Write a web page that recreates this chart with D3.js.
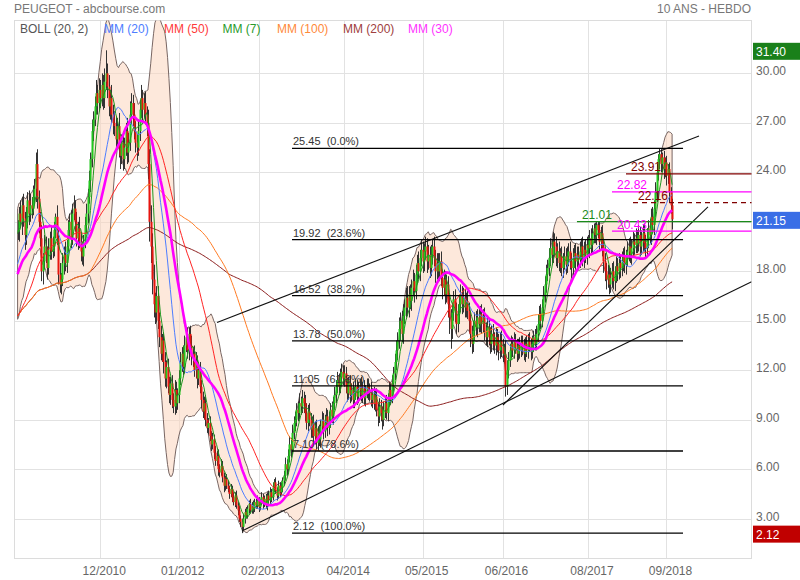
<!DOCTYPE html>
<html><head><meta charset="utf-8">
<script src="https://cdn.jsdelivr.net/npm/d3@7"></script>
<style>body{margin:0;background:#fff}svg{display:block;font-family:"Liberation Sans",Arial,sans-serif}</style>
</head><body><svg id="c" width="800" height="580"></svg>
<script>
// ---------- DATA ----------
const firstWeek = "2009-10-19";           // date of first visible weekly candle
const historyCloses = [
13.5,12.8,12.0,11.5,12.2,11.0,10.5,11.2,10.8,10.0,
9.5,9.8,10.4,11.0,10.6,11.5,12.0,11.6,12.4,13.5,
14.6,15.4,16.0,16.8,17.5,17.2,18.0,18.6,18.4,16.0,
15.2,16.0,17.5,16.5,17.0,17.8,18.2,17.6,18.5,19.0,
18.4,19.2,19.8,20.2,19.6,20.5,21.0,20.4];
const closes = [
20.5,21.5,21.0,22.0,21.2,20.2,21.0,22.3,21.5,22.0,
21.8,22.5,23.0,24.5,22.4,21.0,20.0,18.0,18.6,19.5,
19.0,18.2,19.3,20.0,19.2,19.5,20.5,21.3,20.0,17.8,
17.2,17.5,18.5,19.0,18.5,19.5,20.5,21.0,20.0,21.5,
21.8,21.0,20.0,20.6,19.8,19.2,18.9,19.8,20.8,21.5,
22.5,23.5,24.8,26.5,27.2,28.0,28.8,28.2,29.0,28.5,
29.3,28.5,29.5,30.0,29.2,28.0,28.5,27.5,27.0,26.8,
26.0,26.8,25.5,25.0,25.8,24.8,25.5,26.5,25.2,25.8,
27.5,28.2,27.5,26.5,25.8,25.5,26.5,27.8,28.5,27.8,
28.2,27.5,27.0,24.5,21.0,19.5,17.5,16.0,15.5,16.5,
15.0,14.0,13.0,13.8,12.5,11.5,12.2,11.0,10.5,11.2,
10.2,9.8,10.8,10.0,10.5,11.5,12.5,13.0,12.2,13.5,
14.0,13.2,14.2,13.5,12.8,13.0,12.0,12.5,11.5,12.0,
11.0,10.2,9.5,10.0,9.0,8.5,8.8,8.0,7.5,7.8,
7.0,6.5,6.8,6.0,5.8,6.2,5.5,5.0,5.4,5.0,
4.8,4.5,4.8,4.3,4.0,4.4,3.8,3.5,3.0,2.8,
2.5,3.0,3.4,3.2,3.6,3.9,3.5,3.8,3.6,4.0,
3.8,4.1,3.7,4.0,4.3,3.9,4.2,3.8,4.4,4.1,
4.6,4.3,4.9,5.2,4.7,4.4,5.0,4.6,4.9,5.3,
5.6,6.3,6.0,6.8,7.5,7.2,8.2,8.8,9.0,9.6,
9.4,10.0,9.8,10.3,10.0,9.4,8.8,9.5,9.0,8.4,
8.8,8.0,8.5,7.6,8.2,7.8,8.6,9.0,8.3,8.8,
9.2,8.5,9.0,9.6,9.2,10.0,10.5,11.0,11.4,11.0,
11.6,11.9,11.5,11.8,11.0,10.6,11.2,10.5,10.8,10.2,
10.6,11.0,10.4,10.8,11.1,10.5,10.9,10.3,10.7,11.0,
10.6,10.8,10.2,10.5,10.0,10.4,9.6,9.2,9.8,9.4,
9.0,9.6,10.0,9.4,10.2,10.8,10.4,11.2,11.8,12.5,
13.2,13.8,14.5,15.0,14.2,15.3,15.8,16.4,15.8,16.6,
16.2,17.0,17.4,16.8,17.8,18.5,18.0,18.8,19.3,18.6,
19.2,19.5,18.6,19.0,18.2,19.0,19.5,18.8,18.0,18.5,
18.0,18.6,17.6,17.0,17.5,16.6,17.2,16.0,15.2,14.5,
15.5,16.3,15.6,14.8,15.4,16.0,16.6,16.0,16.4,15.8,
16.2,15.6,15.0,14.2,13.6,14.4,15.0,14.6,15.2,14.8,
15.4,14.8,15.2,14.4,14.0,14.6,14.0,13.6,14.2,13.8,
13.5,14.0,13.6,13.2,13.8,13.4,13.0,13.0,11.0,12.0,
12.6,13.2,13.6,13.2,13.8,13.4,13.0,13.5,13.2,13.7,
13.4,13.0,13.6,13.2,13.8,13.5,13.1,13.6,14.0,13.6,
14.2,14.8,15.4,15.0,15.8,16.5,17.2,17.8,18.2,18.8,
19.4,19.0,19.8,19.5,18.8,19.2,18.5,18.9,18.2,18.6,
18.9,18.4,18.9,19.2,18.6,18.2,18.8,19.1,18.6,19.0,
18.7,19.2,19.5,18.8,19.3,19.0,19.6,19.4,20.0,19.6,
20.3,20.6,20.2,20.8,20.5,19.8,20.3,19.5,18.6,18.0,
17.5,17.8,17.2,17.6,18.0,17.4,17.8,18.3,18.0,18.5,
18.2,18.6,18.9,18.4,18.8,19.2,19.5,19.0,19.4,19.8,
19.6,20.0,19.7,20.2,19.5,19.8,20.3,19.7,19.4,20.0,
20.6,20.2,21.3,20.8,21.8,22.8,24.0,24.8,25.1,24.5,
24.9,24.2,24.6,23.8,24.2,22.8,22.0,21.15];
const upperWicks = [
0.6,0.4,0.8,0.5,0.7,0.4,0.9,0.5,0.6,0.7, 0.5,0.7,0.6,0.7,0.9,0.5,0.6,0.8,0.5,0.7,
0.6,0.5,0.7,0.4,0.8,0.6,0.5,0.2,0.7,0.5, 0.7,0.4,0.6,0.5,0.8,0.4,0.6,0.5,0.7,0.6,
0.8,0.5,0.6,0.4,0.7,0.5,0.6,0.4,0.5,0.6, 0.5,0.6,0.4,0.7,0.5,0.6,0.8,0.5,0.7,0.6,
0.7,0.6,0.8,1.4,0.6,0.7,0.5,0.8,0.6,0.7, 0.6,0.5,0.8,0.6,0.5,0.7,0.6,0.5,0.8,0.6,
0.8,0.6,0.5,0.7,0.6,0.5,0.7,0.6,0.8,0.5, 0.6,0.7,0.5,0.8,0.9,1.0,0.8,0.9,0.7,0.6,
0.6,0.5,0.7,0.4,0.5,0.6,0.4,0.5,0.6,0.4, 0.5,0.4,0.6,0.5,0.4,0.5,0.6,0.4,0.5,0.6,
0.5,0.6,0.4,0.5,0.6,0.4,0.5,0.6,0.4,0.5, 0.5,0.4,0.5,0.4,0.5,0.4,0.3,0.4,0.3,0.4,
0.3,0.4,0.3,0.4,0.3,0.4,0.3,0.3,0.2,0.3, 0.3,0.2,0.3,0.2,0.3,0.2,0.3,0.2,0.3,0.2,
0.2,0.3,0.2,0.3,0.2,0.2,0.3,0.2,0.3,0.2, 0.2,0.3,0.2,0.2,0.3,0.2,0.2,0.3,0.2,0.3,
0.3,0.2,0.3,0.2,0.3,0.2,0.3,0.2,0.3,0.2, 0.3,0.4,0.3,0.4,0.5,0.4,0.5,0.4,0.5,0.4,
0.5,0.6,0.4,0.5,0.4,0.5,0.6,0.4,0.5,0.4, 0.4,0.5,0.4,0.5,0.4,0.5,0.4,0.5,0.4,0.5,
0.5,0.4,0.5,0.4,0.5,0.4,0.5,0.4,0.5,0.4, 0.5,0.5,0.4,0.5,0.4,0.5,0.4,0.5,0.4,0.5,
0.4,0.5,0.4,0.5,0.4,0.5,0.4,0.5,0.4,0.5, 0.5,0.4,0.5,0.4,0.5,0.4,0.5,0.4,0.5,0.4,
0.4,0.5,0.4,0.5,0.4,0.5,0.4,0.5,0.4,0.5, 0.6,0.5,0.7,0.5,0.6,0.7,0.5,0.6,0.7,0.5,
0.6,0.5,0.7,0.5,0.6,0.5,0.7,0.5,0.6,0.5, 0.5,0.6,0.5,0.6,0.5,0.6,0.4,0.6,0.5,0.6,
0.6,0.5,0.6,0.5,0.6,0.5,0.6,0.5,0.6,0.5, 0.6,0.5,0.6,0.5,0.6,0.5,0.6,0.5,0.6,0.5,
0.5,0.6,0.5,0.6,0.5,0.6,0.5,0.6,0.5,0.6, 0.5,0.6,0.5,0.6,0.5,0.6,0.5,0.6,0.5,0.6,
0.5,0.6,0.5,0.6,0.5,0.6,0.5,0.6,0.8,0.6, 0.5,0.4,0.5,0.4,0.5,0.4,0.5,0.4,0.5,0.4,
0.4,0.5,0.4,0.5,0.4,0.5,0.4,0.5,0.4,0.5, 0.5,0.6,0.5,0.6,0.5,0.6,0.5,0.6,0.5,0.6,
0.6,0.5,0.6,0.5,0.6,0.5,0.6,0.5,0.6,0.5, 0.6,0.5,0.6,0.5,0.6,0.5,0.6,0.5,0.6,0.5,
0.5,0.6,0.5,0.6,0.5,0.6,0.5,0.6,0.5,0.6, 0.5,0.3,0.35,0.21,0.2,0.5,0.4,0.5,0.4,0.5,
0.5,0.6,0.5,0.6,0.5,0.6,0.5,0.6,0.5,0.6, 0.5,0.6,0.5,0.6,0.5,0.6,0.5,0.6,0.5,0.6,
0.5,0.6,0.5,0.6,0.5,0.6,0.5,0.6,0.5,0.6, 0.5,0.6,0.5,0.6,0.5,0.6,0.5,0.3,0.35,0.3,
0.3,0.4,0.3,0.4,0.3,0.4,0.3,0.4];
const lowerWicks = [
0.5,0.7,0.4,0.8,0.5,0.9,0.6,0.4,0.7,0.5, 0.6,0.4,0.5,0.8,0.6,0.7,0.5,0.6,0.8,0.5,
0.5,0.7,0.4,0.6,0.5,0.4,0.6,0.5,0.4,0.6, 0.5,0.6,0.4,0.7,0.5,0.6,0.4,0.5,0.6,0.4,
0.4,0.6,0.5,0.7,0.4,0.6,0.5,0.6,0.4,0.5, 0.6,0.4,0.7,0.5,0.6,0.4,0.5,0.7,0.5,0.6,
0.5,0.7,0.6,0.5,0.7,0.6,0.8,0.5,0.7,0.6, 0.7,0.5,0.6,0.8,0.5,0.7,0.6,0.5,0.7,0.6,
0.5,0.6,0.7,0.5,0.6,0.8,0.5,0.6,0.5,0.7, 0.5,0.6,0.8,0.9,1.2,1.0,0.9,0.8,0.7,0.6,
0.5,0.6,0.4,0.5,0.7,0.5,0.6,0.4,0.5,0.6, 0.5,0.4,0.5,0.6,0.4,0.5,0.4,0.6,0.5,0.4,
0.4,0.5,0.6,0.4,0.5,0.6,0.4,0.5,0.6,0.4, 0.4,0.5,0.4,0.5,0.4,0.3,0.4,0.3,0.4,0.3,
0.4,0.3,0.3,0.4,0.3,0.2,0.3,0.4,0.3,0.2, 0.2,0.3,0.2,0.3,0.2,0.3,0.2,0.3,0.2,0.3,
0.38,0.2,0.3,0.2,0.2,0.3,0.2,0.2,0.3,0.2, 0.2,0.2,0.3,0.2,0.2,0.3,0.2,0.2,0.3,0.2,
0.2,0.3,0.2,0.3,0.2,0.3,0.2,0.3,0.2,0.3, 0.3,0.3,0.4,0.3,0.4,0.5,0.3,0.4,0.5,0.4,
0.5,0.4,0.5,0.4,0.6,0.5,0.4,0.5,0.4,0.5, 0.5,0.4,0.5,0.4,0.5,0.4,0.5,0.4,0.5,0.4,
0.4,0.5,0.4,0.5,0.4,0.5,0.4,0.5,0.4,0.5, 0.4,0.5,0.4,0.5,0.4,0.5,0.4,0.5,0.4,0.5,
0.5,0.4,0.5,0.4,0.5,0.4,0.5,0.4,0.5,0.4, 0.4,0.5,0.4,0.5,0.4,0.5,0.4,0.6,0.4,0.5,
0.6,0.4,0.5,0.4,0.5,0.4,0.5,0.4,0.5,0.4, 0.5,0.6,0.5,0.7,0.5,0.6,0.5,0.6,0.5,0.6,
0.5,0.6,0.5,0.7,0.5,0.6,0.5,0.6,0.5,0.7, 0.6,0.5,0.7,0.5,0.6,0.5,0.6,0.5,0.7,0.5,
0.5,0.6,0.5,0.7,0.5,0.6,0.5,0.8,1.0,1.2, 0.6,0.5,0.7,0.6,0.5,0.6,0.5,0.6,0.5,0.6,
0.6,0.5,0.7,0.8,0.6,0.5,0.6,0.5,0.6,0.5, 0.5,0.6,0.5,0.6,0.5,0.6,0.5,0.6,0.5,0.6,
0.5,0.6,0.5,0.6,0.5,0.6,0.5,0.6,0.6,0.5, 0.5,0.4,0.5,0.4,0.5,0.4,0.5,0.4,0.5,0.4,
0.5,0.4,0.5,0.4,0.5,0.4,0.5,0.4,0.5,0.4, 0.4,0.5,0.4,0.5,0.4,0.5,0.4,0.5,0.4,0.5,
0.5,0.6,0.5,0.6,0.5,0.6,0.5,0.6,0.5,0.6, 0.5,0.6,0.5,0.6,0.5,0.6,0.5,0.6,0.5,0.6,
0.6,0.5,0.6,0.5,0.6,0.5,0.6,0.5,0.6,0.5, 0.5,0.6,0.5,0.6,0.5,0.6,0.5,0.6,0.7,0.6,
0.6,0.5,0.6,0.5,0.6,0.5,0.6,0.5,0.6,0.5, 0.6,0.5,0.6,0.5,0.6,0.5,0.6,0.5,0.6,0.5,
0.6,0.5,0.6,0.5,0.6,0.5,0.6,0.5,0.6,0.5, 0.6,0.5,0.6,0.5,0.6,0.5,0.6,0.5,0.6,0.5,
0.5,0.6,0.5,0.6,0.5,0.6,0.5,0.6];

const xTickDates  = ["2010-12-06","2012-01-02","2013-02-04","2014-04-07","2015-05-04","2016-06-06","2017-08-07","2018-09-03"];
const xTickLabels = ["12/2010","01/2012","02/2013","04/2014","05/2015","06/2016","08/2017","09/2018"];
const yTicks = [3,6,9,12,15,18,21,24,27,30];
const yTickLabels = ["3.00","6.00","9.00","12.00","15.00","18.00","21.00","24.00","27.00","30.00"];
const maPeriods = [200,100,50,20,7,30];
const legendLabels = ["BOLL (20, 2)","MM (20)","MM (50)","MM (7)","MM (100)","MM (200)","MM (30)"];
const fibLevels = [25.45,19.92,16.52,13.78,11.05,7.10,2.12];
const fibPercents = ["0.0%","23.6%","38.2%","50.0%","61.8%","78.6%","100.0%"];
const fibSpanWeeks = [195.8,474.8];
// trend lines: [startWeek, startValue, endWeek, endValue]
const trendLines = [[142.3,14.90,486.2,26.20],[160.1,2.25,523.7,17.37],[346.3,9.89,492.6,21.90]];
// marked levels on the right
const markValues = [23.91,22.82,22.16,21.01,20.43];
const markStartWeeks = [434.1,424.1,439.1,399.1,424.1];
const priceTags = [31.40,21.15,2.12];

// ---------- STYLE ----------
const L=14.5, R=751.5, T=20.5, B=558.5;
const maColors = {200:"#8b1c1c",100:"#ff7a22",50:"#ff2424",20:"#4d7dff",7:"#1f961f",30:"#ff00ff"};
const maWidths = {200:1,100:1,50:1,20:1,7:1,30:2.6};
const legendColors = ["#555","#4d7dff","#ff3a3a","#2a9a2a","#ff8a3a","#a04040","#ff33ff"];
const legendX = [20,104,164,222.5,277,343,408];
const markColors = ["#800000","#ff00ff","#800000","#1a8a1a","#ff00ff"];
const markDash = [null,null,"5,4",null,null];
const tagColors = ["#1a801a","#3a6ee6","#c00000"];

// ---------- SCALES ----------
const parse = d3.utcParse("%Y-%m-%d");
const T0 = parse(firstWeek).getTime();
const WEEK = 7*864e5;
const wDate = w => new Date(T0 + w*WEEK);
const x = d3.scaleUtc().domain([wDate(-2.35), wDate(523.65)]).range([14.3, 751.5]);
const y = d3.scaleLinear().domain([0.594, 33.238]).range([558.3, 20]);

const svg = d3.select("#c");
svg.append("defs").append("clipPath").attr("id","clip")
  .append("rect").attr("x",L).attr("y",T).attr("width",R-L).attr("height",B-T);

// titles
svg.append("text").attr("x",14).attr("y",13).attr("font-size",12).attr("fill","#777").text("PEUGEOT - abcbourse.com");
svg.append("text").attr("x",751).attr("y",13).attr("text-anchor","end").attr("font-size",12).attr("fill","#777").text("10 ANS - HEBDO");

// grid
const grid = svg.append("g").attr("stroke","#e2e2e2").attr("stroke-width",1);
yTicks.forEach(v=>{const yy=Math.round(y(v))+0.5; grid.append("line").attr("x1",L).attr("x2",R).attr("y1",yy).attr("y2",yy);});
xTickDates.forEach(d=>{const xx=Math.round(x(parse(d)))+0.5; grid.append("line").attr("x1",xx).attr("x2",xx).attr("y1",T).attr("y2",B);});
svg.append("rect").attr("x",L).attr("y",T).attr("width",R-L).attr("height",B-T).attr("fill","none").attr("stroke","#dcdcdc");

// axis labels
yTicks.forEach((v,i)=>svg.append("text").attr("x",756).attr("y",Math.round(y(v))+1.5).attr("font-size",12).attr("fill","#666").text(yTickLabels[i]));
xTickDates.forEach((d,i)=>svg.append("text").attr("x",x(parse(d))+4).attr("y",575).attr("text-anchor","middle").attr("font-size",12).attr("fill","#666").text(xTickLabels[i]));

// ---------- computations ----------
const all = historyCloses.concat(closes);
const NH = historyCloses.length;
function sma(n){return all.map((_,i)=>d3.mean(all.slice(Math.max(0,i-n+1),i+1)));}
function boll(n,k){return all.map((_,i)=>{const w=all.slice(Math.max(0,i-n+1),i+1);const m=d3.mean(w);const sd=Math.sqrt(d3.mean(w,v=>(v-m)*(v-m)));return [m-k*sd,m+k*sd];});}
const visIdx = d3.range(NH, all.length);

const plot = svg.append("g").attr("clip-path","url(#clip)");

// Bollinger band
const bb = boll(20,2);
plot.append("path").datum(visIdx)
  .attr("d", d3.area().x(i=>x(wDate(i-NH))).y0(i=>y(bb[i][0])).y1(i=>y(bb[i][1])))
  .attr("fill","#fbd5be").attr("fill-opacity",0.55).attr("stroke","#786663").attr("stroke-width",1);

// candles
const candles = closes.map((c,i)=>{const o=i===0?historyCloses[NH-1]:closes[i-1];return {d:wDate(i),o,c,h:Math.max(o,c)+upperWicks[i],l:Math.min(o,c)-lowerWicks[i]};});
const cg = plot.append("g");
cg.selectAll("line").data(candles).join("line")
  .attr("x1",d=>Math.round(x(d.d))+0.5).attr("x2",d=>Math.round(x(d.d))+0.5)
  .attr("y1",d=>y(d.h)).attr("y2",d=>y(d.l)).attr("stroke","#333").attr("stroke-width",1);
cg.selectAll("rect").data(candles).join("rect")
  .attr("x",d=>Math.round(x(d.d))-0.5).attr("width",2)
  .attr("y",d=>y(Math.max(d.o,d.c))).attr("height",d=>Math.max(1,Math.abs(y(d.o)-y(d.c))))
  .attr("fill",d=>d.c>=d.o?"#22c81e":"#e8150f");

// moving averages
maPeriods.forEach(n=>{
  const m = sma(n);
  plot.append("path").datum(visIdx)
    .attr("d", d3.line().x(i=>x(wDate(i-NH))).y(i=>y(m[i])))
    .attr("fill","none").attr("stroke",maColors[n]).attr("stroke-width",maWidths[n]);
});

// fibonacci
const fg = svg.append("g");
fibLevels.forEach((v,i)=>{
  const yy=y(v);
  fg.append("line").attr("x1",x(wDate(fibSpanWeeks[0]))).attr("x2",x(wDate(fibSpanWeeks[1]))).attr("y1",yy).attr("y2",yy).attr("stroke","#000").attr("stroke-width",1.3);
  fg.append("text").attr("x",x(wDate(fibSpanWeeks[0]))+1).attr("y",yy-3).attr("font-size",11).attr("fill","#333").style("white-space","pre")
    .text(v.toFixed(2)+"  ("+fibPercents[i]+")");
});

// trend lines
trendLines.forEach(t=>{
  plot.append("line").attr("x1",x(wDate(t[0]))).attr("y1",y(t[1])).attr("x2",x(wDate(t[2]))).attr("y2",y(t[3]))
    .attr("stroke","#111").attr("stroke-width",1.1);
});

// marked levels
markValues.forEach((v,i)=>{
  const yy=y(v), x0=x(wDate(markStartWeeks[i]));
  svg.append("line").attr("x1",x0).attr("x2",R).attr("y1",yy).attr("y2",yy).attr("stroke",markColors[i]).attr("stroke-width",1.3)
    .attr("stroke-dasharray",markDash[i]);
  svg.append("text").attr("x",x0+5).attr("y",yy-2.5).attr("font-size",12).attr("fill",markColors[i]).text(v.toFixed(2));
});

// legend
legendLabels.forEach((t,i)=>svg.append("text").attr("x",legendX[i]).attr("y",32.5).attr("font-size",12).attr("fill",legendColors[i]).text(t));

// price tags
priceTags.forEach((v,i)=>{
  const cy=y(v)+1;
  svg.append("rect").attr("x",753).attr("y",cy-8.5).attr("width",47).attr("height",17).attr("fill",tagColors[i]);
  svg.append("text").attr("x",756).attr("y",cy+4.5).attr("font-size",12).attr("fill","#fff").text(v.toFixed(2));
});
</script></body></html>
